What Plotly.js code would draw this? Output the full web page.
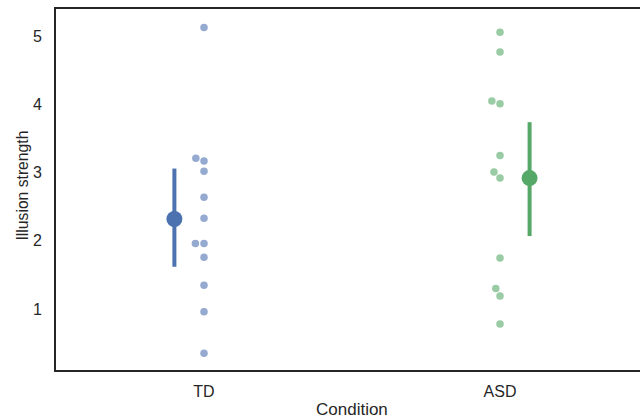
<!DOCTYPE html>
<html>
<head>
<meta charset="utf-8">
<script src="https://cdn.plot.ly/plotly-3.0.1.min.js"></script>
<style>html,body{margin:0;padding:0;background:#fff;}#chart{width:640px;height:418px;}</style>
</head>
<body>
<div id="chart"></div>
<script>
// ---- data ----
const categories = ['TD', 'ASD'];
const tdValues  = [5.13, 3.21, 3.17, 3.02, 2.64, 2.33, 1.96, 1.96, 1.76, 1.35, 0.96, 0.35];
const asdValues = [5.06, 4.77, 4.05, 4.01, 3.25, 3.01, 2.92, 1.75, 1.30, 1.19, 0.78];
const meanValues = [2.32, 2.92];
const ciLow  = [1.62, 2.07];
const ciHigh = [3.06, 3.74];
const xTitle = 'Condition';
const yTitle = 'Illusion strength';

// ---- styling / layout constants ----
const stripColors = ['rgba(76,114,176,0.6)', 'rgba(85,168,104,0.6)'];
const meanColors = ['#4c72b0', '#55a868'];
const W = 640, H = 418;
const margin = {l: 56, r: 0, t: 9, b: 48};
const xRange = [-0.5, 1.473];
const yRange = [0.106, 5.40];
const dodge = 0.1;
const pointDiam = 8.6; // px, used for swarm collision

const pxPerX = (W - margin.l - margin.r) / (xRange[1] - xRange[0]);
const pxPerY = (H - margin.t - margin.b) / (yRange[1] - yRange[0]);

// simple swarm layout: points sorted ascending, collisions pushed to the left
function swarm(values, center) {
  const sorted = values.slice().sort((a, b) => a - b);
  const placed = [];
  const xs = [], ys = [];
  sorted.forEach(v => {
    const yPx = v * pxPerY;
    const near = placed.filter(p => Math.abs(p.y - yPx) < pointDiam);
    const collides = dx => near.some(p => Math.hypot(p.x - dx, p.y - yPx) < pointDiam - 1e-6);
    let cands = [0];
    near.forEach(p => {
      const d = Math.sqrt(pointDiam * pointDiam - (p.y - yPx) ** 2);
      cands.push(p.x - d, p.x + d);
    });
    cands = cands.filter(c => c <= 0 && !collides(c)).sort((a, b) => Math.abs(a) - Math.abs(b));
    const dx = cands.length ? cands[0] : 0;
    placed.push({x: dx, y: yPx});
    xs.push(center + dx / pxPerX);
    ys.push(v);
  });
  return {x: xs, y: ys};
}

const groups = [tdValues, asdValues];
const traces = [];
groups.forEach((vals, i) => {
  const s = swarm(vals, i);
  traces.push({
    type: 'scatter', mode: 'markers', x: s.x, y: s.y,
    marker: {color: stripColors[i], size: 7.5, line: {width: 0}},
    hoverinfo: 'y', showlegend: false
  });
});
groups.forEach((vals, i) => {
  traces.push({
    type: 'scatter', mode: 'markers',
    x: [i + (i === 0 ? -dodge : dodge)], y: [meanValues[i]],
    error_y: {type: 'data', symmetric: false,
      array: [ciHigh[i] - meanValues[i]], arrayminus: [meanValues[i] - ciLow[i]],
      color: meanColors[i], thickness: 4, width: 0},
    marker: {color: meanColors[i], size: 16, line: {width: 0}},
    showlegend: false
  });
});

const layout = {
  width: W, height: H,
  margin: margin,
  paper_bgcolor: '#fff', plot_bgcolor: '#fff',
  font: {family: 'Liberation Sans, Arial, sans-serif', color: '#262626', size: 16},
  showlegend: false,
  xaxis: {
    range: xRange, tickvals: [0, 1], ticktext: categories,
    showgrid: false, zeroline: false,
    showline: true, mirror: true, linecolor: '#262626', linewidth: 2,
    ticks: '', ticklabelstandoff: 6,
    tickfont: {size: 16}
  },
  yaxis: {
    range: yRange, tickvals: [1, 2, 3, 4, 5],
    showgrid: false, zeroline: false,
    showline: true, linecolor: '#262626', linewidth: 2,
    ticks: '', ticklabelstandoff: 9,
    tickfont: {size: 16}
  },
  annotations: [
    {text: xTitle, xref: 'x', x: 0.5, yref: 'paper', y: 0, yanchor: 'middle',
     yshift: -39, showarrow: false, font: {size: 17}},
    {text: yTitle, xref: 'paper', x: 0, xanchor: 'center', xshift: -34,
     yref: 'paper', y: 0.5, yshift: 4, textangle: -90, showarrow: false, font: {size: 15.7}}
  ]
};

Plotly.newPlot('chart', traces, layout, {displayModeBar: false, staticPlot: true});
</script>
</body>
</html>
